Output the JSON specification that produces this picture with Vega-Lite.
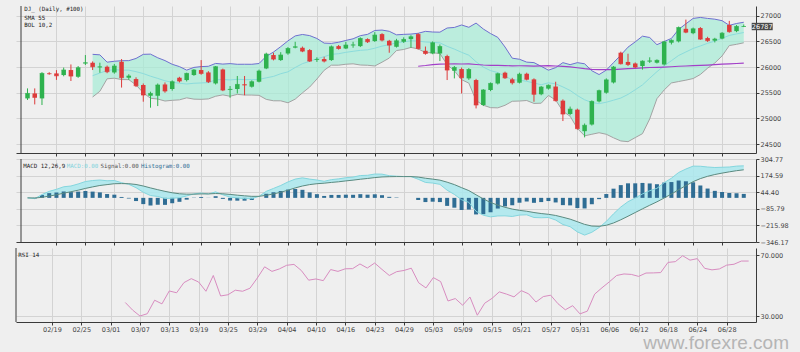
{
"$schema": "https://vega.github.io/schema/vega-lite/v6.json",
"background": "#efefef",
"padding": {"left": 15, "top": 5, "right": 45, "bottom": 5},
"bounds": "flush",
"spacing": 6,
"config": {
  "view": {"stroke": null},
  "axis": {"domainColor": "#3a3a3a", "tickColor": "#3a3a3a", "gridColor": "#d3d3d3", "gridWidth": 1, "labelFont": "DejaVu Sans", "labelFontSize": 6.5, "labelColor": "#444", "title": null}
},
"datasets": {
"k": [
{"i":0,"o":25389,"h":25584,"l":25358,"c":25486},{"i":1,"o":25486,"h":25584,"l":25272,"c":25409},{"i":2,"o":25389,"h":25900,"l":25260,"c":25876},{"i":3,"o":25876,"h":25900,"l":25850,"c":25870},{"i":4,"o":25876,"h":25940,"l":25750,"c":25830},{"i":5,"o":25844,"h":25990,"l":25820,"c":25942},{"i":6,"o":25942,"h":26051,"l":25728,"c":25825},{"i":7,"o":25811,"h":26020,"l":25790,"c":25987},{"i":8,"o":26070,"h":26234,"l":26040,"c":26084},{"i":9,"o":26084,"h":26110,"l":25942,"c":26006},
{"i":10,"o":25995,"h":26085,"l":25889,"c":26005},{"i":11,"o":26006,"h":26030,"l":25880,"c":25909},{"i":12,"o":25895,"h":26060,"l":25870,"c":26019},{"i":13,"o":26103,"h":26156,"l":25600,"c":25792},{"i":14,"o":25792,"h":25860,"l":25750,"c":25825},{"i":15,"o":25766,"h":25800,"l":25610,"c":25636},{"i":16,"o":25650,"h":25680,"l":25325,"c":25455},{"i":17,"o":25441,"h":25520,"l":25208,"c":25486},{"i":18,"o":25441,"h":25680,"l":25240,"c":25650},{"i":19,"o":25661,"h":25700,"l":25500,"c":25533},
{"i":20,"o":25572,"h":25740,"l":25540,"c":25714},{"i":21,"o":25792,"h":25810,"l":25700,"c":25728},{"i":22,"o":25747,"h":25890,"l":25720,"c":25876},{"i":23,"o":25844,"h":25960,"l":25830,"c":25942},{"i":24,"o":25942,"h":26136,"l":25850,"c":25876},{"i":25,"o":25895,"h":25920,"l":25690,"c":25714},{"i":26,"o":25681,"h":26020,"l":25660,"c":26006},{"i":27,"o":25953,"h":25970,"l":25530,"c":25552},{"i":28,"o":25555,"h":25630,"l":25402,"c":25565},{"i":29,"o":25572,"h":25826,"l":25486,"c":25661},
{"i":30,"o":25661,"h":25826,"l":25450,"c":25650},{"i":31,"o":25617,"h":25740,"l":25600,"c":25714},{"i":32,"o":25714,"h":25950,"l":25700,"c":25922},{"i":33,"o":25973,"h":26280,"l":25960,"c":26253},{"i":34,"o":26234,"h":26280,"l":26130,"c":26156},{"i":35,"o":26136,"h":26290,"l":26120,"c":26234},{"i":36,"o":26265,"h":26390,"l":26240,"c":26362},{"i":37,"o":26380,"h":26493,"l":26365,"c":26395},{"i":38,"o":26376,"h":26400,"l":26290,"c":26311},{"i":39,"o":26331,"h":26350,"l":26100,"c":26117},
{"i":40,"o":26140,"h":26190,"l":26100,"c":26148},{"i":41,"o":26156,"h":26200,"l":26090,"c":26117},{"i":42,"o":26136,"h":26420,"l":26120,"c":26395},{"i":43,"o":26408,"h":26430,"l":26340,"c":26362},{"i":44,"o":26362,"h":26490,"l":26350,"c":26428},{"i":45,"o":26425,"h":26493,"l":26376,"c":26432},{"i":46,"o":26408,"h":26580,"l":26390,"c":26557},{"i":47,"o":26545,"h":26560,"l":26470,"c":26493},{"i":48,"o":26506,"h":26680,"l":26490,"c":26623},{"i":49,"o":26642,"h":26660,"l":26500,"c":26526},
{"i":50,"o":26512,"h":26530,"l":26279,"c":26428},{"i":51,"o":26395,"h":26550,"l":26380,"c":26512},{"i":52,"o":26493,"h":26580,"l":26470,"c":26538},{"i":53,"o":26545,"h":26620,"l":26376,"c":26590},{"i":54,"o":26642,"h":26660,"l":26340,"c":26362},{"i":55,"o":26317,"h":26400,"l":26240,"c":26265},{"i":56,"o":26265,"h":26500,"l":26250,"c":26473},{"i":57,"o":26265,"h":26440,"l":26117,"c":26400},{"i":58,"o":26214,"h":26240,"l":25747,"c":25942},{"i":59,"o":25928,"h":26020,"l":25779,"c":25992},
{"i":60,"o":25961,"h":25990,"l":25486,"c":25792},{"i":61,"o":25779,"h":25980,"l":25750,"c":25953},{"i":62,"o":25747,"h":25770,"l":25194,"c":25261},{"i":63,"o":25261,"h":25570,"l":25240,"c":25553},{"i":64,"o":25553,"h":25700,"l":25530,"c":25681},{"i":65,"o":25680,"h":25890,"l":25660,"c":25870},{"i":66,"o":25890,"h":25910,"l":25770,"c":25790},{"i":67,"o":25760,"h":25790,"l":25660,"c":25695},{"i":68,"o":25695,"h":25890,"l":25680,"c":25860},{"i":69,"o":25870,"h":25890,"l":25740,"c":25760},
{"i":70,"o":25760,"h":25780,"l":25324,"c":25470},{"i":71,"o":25470,"h":25630,"l":25450,"c":25610},{"i":72,"o":25580,"h":25660,"l":25560,"c":25645},{"i":73,"o":25620,"h":25714,"l":25330,"c":25345},{"i":74,"o":25345,"h":25370,"l":24948,"c":25085},{"i":75,"o":25085,"h":25230,"l":25060,"c":25180},{"i":76,"o":25170,"h":25190,"l":24780,"c":24800},{"i":77,"o":24750,"h":24900,"l":24630,"c":24865},{"i":78,"o":24880,"h":25350,"l":24860,"c":25330},{"i":79,"o":25330,"h":25560,"l":25310,"c":25540},
{"i":80,"o":25500,"h":25780,"l":25480,"c":25750},{"i":81,"o":25700,"h":26020,"l":25680,"c":26000},{"i":82,"o":26280,"h":26300,"l":26050,"c":26065},{"i":83,"o":26100,"h":26260,"l":26020,"c":26050},{"i":84,"o":26070,"h":26090,"l":25980,"c":26000},{"i":85,"o":26020,"h":26130,"l":25950,"c":26115},{"i":86,"o":26110,"h":26190,"l":26080,"c":26120},{"i":87,"o":26085,"h":26150,"l":26070,"c":26130},{"i":88,"o":26050,"h":26510,"l":26030,"c":26490},{"i":89,"o":26475,"h":26540,"l":26440,"c":26520},
{"i":90,"o":26500,"h":26790,"l":26480,"c":26770},{"i":91,"o":26745,"h":26925,"l":26660,"c":26680},{"i":92,"o":26660,"h":26770,"l":26640,"c":26745},{"i":93,"o":26760,"h":26780,"l":26530,"c":26545},{"i":94,"o":26565,"h":26590,"l":26490,"c":26515},{"i":95,"o":26515,"h":26570,"l":26480,"c":26545},{"i":96,"o":26555,"h":26680,"l":26540,"c":26660},{"i":97,"o":26820,"h":26900,"l":26670,"c":26690},{"i":98,"o":26700,"h":26820,"l":26680,"c":26790},{"i":99,"o":26785,"h":26830,"l":26780,"c":26790}
],
"b": [
{"i":9,"u":26248,"m":25832,"l":25416},{"i":10,"u":26238,"m":25883,"l":25528},{"i":11,"u":26095,"m":25933,"l":25771},{"i":12,"u":26113,"m":25948,"l":25783},{"i":13,"u":26124,"m":25940,"l":25756},{"i":14,"u":26125,"m":25940,"l":25755},{"i":15,"u":26168,"m":25910,"l":25652},{"i":16,"u":26248,"m":25873,"l":25498},{"i":17,"u":26252,"m":25822,"l":25392},{"i":18,"u":26181,"m":25779,"l":25377},{"i":19,"u":26126,"m":25732,"l":25338},
{"i":20,"u":26054,"m":25703,"l":25352},{"i":21,"u":26009,"m":25685,"l":25361},{"i":22,"u":25940,"m":25670,"l":25400},{"i":23,"u":25993,"m":25684,"l":25375},{"i":24,"u":26009,"m":25690,"l":25371},{"i":25,"u":26015,"m":25697,"l":25379},{"i":26,"u":26071,"m":25751,"l":25431},{"i":27,"u":26058,"m":25758,"l":25458},{"i":28,"u":26067,"m":25749,"l":25431},{"i":29,"u":26054,"m":25761,"l":25468},
{"i":30,"u":26055,"m":25755,"l":25455},{"i":31,"u":26054,"m":25754,"l":25454},{"i":32,"u":26069,"m":25759,"l":25449},{"i":33,"u":26210,"m":25790,"l":25370},{"i":34,"u":26293,"m":25818,"l":25343},{"i":35,"u":26398,"m":25870,"l":25342},{"i":36,"u":26510,"m":25907,"l":25304},{"i":37,"u":26607,"m":25991,"l":25375},{"i":38,"u":26635,"m":26066,"l":25497},{"i":39,"u":26613,"m":26112,"l":25611},
{"i":40,"u":26557,"m":26162,"l":25767},{"i":41,"u":26467,"m":26202,"l":25937},{"i":42,"u":26461,"m":26249,"l":26037},{"i":43,"u":26483,"m":26260,"l":26037},{"i":44,"u":26519,"m":26287,"l":26055},{"i":45,"u":26551,"m":26307,"l":26063},{"i":46,"u":26612,"m":26326,"l":26040},{"i":47,"u":26637,"m":26336,"l":26035},{"i":48,"u":26713,"m":26367,"l":26021},{"i":49,"u":26721,"m":26408,"l":26095},
{"i":50,"u":26697,"m":26436,"l":26175},{"i":51,"u":26628,"m":26475,"l":26322},{"i":52,"u":26637,"m":26490,"l":26343},{"i":53,"u":26643,"m":26513,"l":26383},{"i":54,"u":26658,"m":26506,"l":26354},{"i":55,"u":26696,"m":26489,"l":26282},{"i":56,"u":26683,"m":26481,"l":26279},{"i":57,"u":26680,"m":26472,"l":26264},{"i":58,"u":26761,"m":26404,"l":26047},{"i":59,"u":26772,"m":26350,"l":25928},
{"i":60,"u":26820,"m":26287,"l":25754},{"i":61,"u":26775,"m":26231,"l":25687},{"i":62,"u":26857,"m":26103,"l":25349},{"i":63,"u":26742,"m":25999,"l":25256},{"i":64,"u":26653,"m":25931,"l":25209},{"i":65,"u":26579,"m":25892,"l":25205},{"i":66,"u":26391,"m":25823,"l":25255},{"i":67,"u":26173,"m":25753,"l":25333},{"i":68,"u":26152,"m":25745,"l":25338},{"i":69,"u":26096,"m":25722,"l":25348},
{"i":70,"u":26087,"m":25689,"l":25291},{"i":71,"u":26014,"m":25655,"l":25296},{"i":72,"u":25939,"m":25693,"l":25447},{"i":73,"u":25989,"m":25673,"l":25357},{"i":74,"u":26086,"m":25613,"l":25140},{"i":75,"u":26047,"m":25544,"l":25041},{"i":76,"u":26086,"m":25445,"l":24804},{"i":77,"u":26064,"m":25362,"l":24660},{"i":78,"u":25928,"m":25309,"l":24690},{"i":79,"u":25854,"m":25287,"l":24720},
{"i":80,"u":25940,"m":25315,"l":24690},{"i":81,"u":26087,"m":25354,"l":24621},{"i":82,"u":26232,"m":25396,"l":24560},{"i":83,"u":26388,"m":25467,"l":24546},{"i":84,"u":26491,"m":25558,"l":24625},{"i":85,"u":26602,"m":25652,"l":24702},{"i":86,"u":26576,"m":25783,"l":24990},{"i":87,"u":26436,"m":25910,"l":25384},{"i":88,"u":26498,"m":26026,"l":25554},{"i":89,"u":26558,"m":26124,"l":25690},
{"i":90,"u":26734,"m":26226,"l":25718},{"i":91,"u":26843,"m":26294,"l":25745},{"i":92,"u":26948,"m":26362,"l":25776},{"i":93,"u":26967,"m":26411,"l":25855},{"i":94,"u":26948,"m":26463,"l":25978},{"i":95,"u":26933,"m":26506,"l":26079},{"i":96,"u":26904,"m":26560,"l":26216},{"i":97,"u":26813,"m":26616,"l":26419},{"i":98,"u":26849,"m":26646,"l":26443},{"i":99,"u":26873,"m":26673,"l":26473}
],
"s": [
{"i":54,"v":26016},{"i":55,"v":26030},{"i":56,"v":26049},{"i":57,"v":26059},{"i":58,"v":26060},{"i":59,"v":26063},{"i":60,"v":26060},{"i":61,"v":26063},{"i":62,"v":26050},{"i":63,"v":26040},{"i":64,"v":26034},{"i":65,"v":26032},{"i":66,"v":26029},{"i":67,"v":26024},{"i":68,"v":26025},{"i":69,"v":26024},{"i":70,"v":26020},{"i":71,"v":26023},{"i":72,"v":26026},{"i":73,"v":26021},{"i":74,"v":26012},{"i":75,"v":26003},{"i":76,"v":25986},{"i":77,"v":25968},{"i":78,"v":25956},{"i":79,"v":25950},{"i":80,"v":25951},{"i":81,"v":25951},{"i":82,"v":25960},{"i":83,"v":25969},{"i":84,"v":25975},{"i":85,"v":25984},{"i":86,"v":25991},{"i":87,"v":25995},{"i":88,"v":25999},{"i":89,"v":26006},{"i":90,"v":26016},{"i":91,"v":26021},{"i":92,"v":26028},{"i":93,"v":26032},{"i":94,"v":26039},{"i":95,"v":26046},{"i":96,"v":26056},{"i":97,"v":26062},{"i":98,"v":26069},{"i":99,"v":26076}
],
"d": [
{"i":0,"m":0,"s":0},{"i":1,"m":-6,"s":-1,"h":-5},{"i":2,"m":26,"s":4,"h":22},{"i":3,"m":51,"s":14,"h":37},{"i":4,"m":67,"s":24,"h":42},{"i":5,"m":87,"s":37,"h":50},{"i":6,"m":93,"s":48,"h":45},{"i":7,"m":109,"s":60,"h":49},{"i":8,"m":128,"s":74,"h":54},{"i":9,"m":136,"s":86,"h":49},
{"i":10,"m":140,"s":97,"h":43},{"i":11,"m":134,"s":104,"h":30},{"i":12,"m":136,"s":111,"h":25},{"i":13,"m":119,"s":112,"h":7},{"i":14,"m":106,"s":111,"h":-5},{"i":15,"m":80,"s":105,"h":-25},{"i":16,"m":44,"s":93,"h":-49},{"i":17,"m":18,"s":78,"h":-60},{"i":18,"m":11,"s":64,"h":-54},{"i":19,"m":-5,"s":51,"h":-55},
{"i":20,"m":-3,"s":40,"h":-42},{"i":21,"m":1,"s":32,"h":-31},{"i":22,"m":15,"s":29,"h":-14},{"i":23,"m":31,"s":29,"h":2},{"i":24,"m":38,"s":31,"h":7},{"i":25,"m":30,"s":31,"h":-1},{"i":26,"m":47,"s":34,"h":13},{"i":27,"m":24,"s":32,"h":-8},{"i":28,"m":6,"s":27,"h":-21},{"i":29,"m":0,"s":21,"h":-22},
{"i":30,"m":-6,"s":16,"h":-22},{"i":31,"m":-6,"s":12,"h":-17},{"i":32,"m":12,"s":12,"h":0},{"i":33,"m":51,"s":20,"h":32},{"i":34,"m":74,"s":31,"h":44},{"i":35,"m":97,"s":44,"h":54},{"i":36,"m":125,"s":60,"h":65},{"i":37,"m":147,"s":78,"h":70},{"i":38,"m":157,"s":93,"h":63},{"i":39,"m":147,"s":104,"h":43},
{"i":40,"m":140,"s":111,"h":29},{"i":41,"m":130,"s":115,"h":15},{"i":42,"m":143,"s":121,"h":23},{"i":43,"m":149,"s":126,"h":23},{"i":44,"m":158,"s":133,"h":25},{"i":45,"m":163,"s":139,"h":24},{"i":46,"m":175,"s":146,"h":29},{"i":47,"m":177,"s":152,"h":25},{"i":48,"m":187,"s":159,"h":28},{"i":49,"m":186,"s":164,"h":21},
{"i":50,"m":174,"s":166,"h":8},{"i":51,"m":170,"s":167,"h":3},{"i":52,"m":167,"s":167,"h":0},{"i":53,"m":167,"s":167,"h":0},{"i":54,"m":146,"s":163,"h":-17},{"i":55,"m":121,"s":154,"h":-33},{"i":56,"m":116,"s":147,"h":-30},{"i":57,"m":106,"s":139,"h":-33},{"i":58,"m":60,"s":123,"h":-63},{"i":59,"m":27,"s":104,"h":-77},
{"i":60,"m":-15,"s":80,"h":-95},{"i":61,"m":-35,"s":57,"h":-92},{"i":62,"m":-106,"s":24,"h":-130},{"i":63,"m":-136,"s":-8,"h":-128},{"i":64,"m":-149,"s":-36,"h":-113},{"i":65,"m":-142,"s":-57,"h":-84},{"i":66,"m":-141,"s":-74,"h":-67},{"i":67,"m":-146,"s":-88,"h":-58},{"i":68,"m":-135,"s":-98,"h":-38},{"i":69,"m":-133,"s":-105,"h":-29},
{"i":70,"m":-154,"s":-115,"h":-39},{"i":71,"m":-156,"s":-123,"h":-33},{"i":72,"m":-154,"s":-129,"h":-25},{"i":73,"m":-174,"s":-138,"h":-36},{"i":74,"m":-209,"s":-152,"h":-57},{"i":75,"m":-226,"s":-167,"h":-59},{"i":76,"m":-267,"s":-187,"h":-80},{"i":77,"m":-292,"s":-208,"h":-83},{"i":78,"m":-270,"s":-221,"h":-50},{"i":79,"m":-233,"s":-223,"h":-10},
{"i":80,"m":-185,"s":-215,"h":30},{"i":81,"m":-125,"s":-197,"h":72},{"i":82,"m":-72,"s":-172,"h":100},{"i":83,"m":-30,"s":-144,"h":114},{"i":84,"m":-1,"s":-115,"h":114},{"i":85,"m":31,"s":-86,"h":117},{"i":86,"m":56,"s":-58,"h":113},{"i":87,"m":75,"s":-31,"h":107},{"i":88,"m":119,"s":-1,"h":120},{"i":89,"m":154,"s":30,"h":124},
{"i":90,"m":199,"s":64,"h":136},{"i":91,"m":226,"s":96,"h":130},{"i":92,"m":249,"s":127,"h":122},{"i":93,"m":248,"s":151,"h":97},{"i":94,"m":242,"s":169,"h":73},{"i":95,"m":238,"s":183,"h":55},{"i":96,"m":240,"s":194,"h":46},{"i":97,"m":242,"s":204,"h":38},{"i":98,"m":249,"s":213,"h":36},{"i":99,"m":251,"s":220,"h":31}
],
"r": [
{"i":14,"v":38.9},{"i":15,"v":33.9},{"i":16,"v":30.0},{"i":17,"v":31.5},{"i":18,"v":40.4},{"i":19,"v":38.0},{"i":20,"v":46.5},{"i":21,"v":45.3},{"i":22,"v":52.0},{"i":23,"v":54.6},{"i":24,"v":52.4},{"i":25,"v":46.3},{"i":26,"v":56.7},{"i":27,"v":43.2},{"i":28,"v":44.0},{"i":29,"v":47.0},{"i":30,"v":46.3},{"i":31,"v":48.3},{"i":32,"v":55.0},{"i":33,"v":62.4},{"i":34,"v":59.4},{"i":35,"v":61.0},{"i":36,"v":63.4},{"i":37,"v":64.0},{"i":38,"v":60.0},{"i":39,"v":53.6},
{"i":40,"v":54.4},{"i":41,"v":53.3},{"i":42,"v":60.6},{"i":43,"v":59.4},{"i":44,"v":61.1},{"i":45,"v":61.2},{"i":46,"v":64.3},{"i":47,"v":61.6},{"i":48,"v":64.9},{"i":49,"v":60.7},{"i":50,"v":56.7},{"i":51,"v":59.2},{"i":52,"v":60.0},{"i":53,"v":61.5},{"i":54,"v":51.9},{"i":55,"v":48.5},{"i":56,"v":55.3},{"i":57,"v":52.7},{"i":58,"v":39.9},{"i":59,"v":41.5},
{"i":60,"v":37.1},{"i":61,"v":42.5},{"i":62,"v":30.5},{"i":63,"v":38.4},{"i":64,"v":41.6},{"i":65,"v":45.9},{"i":66,"v":44.4},{"i":67,"v":42.6},{"i":68,"v":46.7},{"i":69,"v":44.6},{"i":70,"v":39.2},{"i":71,"v":42.8},{"i":72,"v":43.7},{"i":73,"v":38.1},{"i":74,"v":34.1},{"i":75,"v":36.8},{"i":76,"v":31.4},{"i":77,"v":33.2},{"i":78,"v":44.4},{"i":79,"v":48.6},
{"i":80,"v":52.5},{"i":81,"v":56.7},{"i":82,"v":57.7},{"i":83,"v":57.4},{"i":84,"v":56.1},{"i":85,"v":58.3},{"i":86,"v":58.4},{"i":87,"v":58.6},{"i":88,"v":65.3},{"i":89,"v":65.8},{"i":90,"v":69.7},{"i":91,"v":66.8},{"i":92,"v":67.8},{"i":93,"v":61.4},{"i":94,"v":60.4},{"i":95,"v":61.0},{"i":96,"v":63.5},{"i":97,"v":64.1},{"i":98,"v":66.2},{"i":99,"v":66.2}
]
},
"vconcat": [
{
 "width": 740, "height": 147,
 "layer": [
  {"data": {"name": "b"}, "mark": {"type": "area", "color": "#a5ecd6", "opacity": 0.7},
   "encoding": {
    "x": {"field": "i", "type": "quantitative", "scale": {"domain": [-0.9, 100], "nice": false, "zero": false},
          "axis": {"values": [4,8,12,16,20,24,28,32,36,40,44,48,52,56,60,64,68,72,76,80,84,88,92,96], "tickCount": 200, "labels": false, "tickSize": 3, "grid": true}},
    "y": {"field": "u", "type": "quantitative", "scale": {"domain": [24325, 27190], "nice": false, "zero": false},
          "axis": {"orient": "right", "values": [24500,25000,25500,26000,26500,27000], "tickCount": 200, "format": "d", "tickSize": 3, "labelPadding": 1, "grid": true, "labelOverlap": false, "labelBound": false}},
    "y2": {"field": "l"}}},
  {"data": {"name": "b"}, "mark": {"type": "line", "color": "#8cdcdc", "strokeWidth": 1}, "encoding": {"x": {"field": "i", "type": "quantitative"}, "y": {"field": "m", "type": "quantitative"}}},
  {"data": {"name": "b"}, "mark": {"type": "line", "color": "#6f6fd0", "strokeWidth": 1}, "encoding": {"x": {"field": "i", "type": "quantitative"}, "y": {"field": "u", "type": "quantitative"}}},
  {"data": {"name": "b"}, "mark": {"type": "line", "color": "#a3a3a3", "strokeWidth": 1}, "encoding": {"x": {"field": "i", "type": "quantitative"}, "y": {"field": "l", "type": "quantitative"}}},
  {"data": {"name": "s"}, "mark": {"type": "line", "color": "#a23fc8", "strokeWidth": 1.2}, "encoding": {"x": {"field": "i", "type": "quantitative"}, "y": {"field": "v", "type": "quantitative"}}},
  {"data": {"name": "k"}, "mark": {"type": "rule", "strokeWidth": 1},
   "encoding": {"x": {"field": "i", "type": "quantitative"}, "y": {"field": "l", "type": "quantitative"}, "y2": {"field": "h"},
    "color": {"condition": {"test": "datum.c >= datum.o", "value": "#2eb24e"}, "value": "#dd3b3b"}}},
  {"data": {"name": "k"}, "mark": {"type": "bar", "size": 4.5},
   "encoding": {"x": {"field": "i", "type": "quantitative"}, "y": {"field": "o", "type": "quantitative"}, "y2": {"field": "c"},
    "color": {"condition": {"test": "datum.c >= datum.o", "value": "#2eb24e"}, "value": "#dd3b3b"}}},
  {"data": {"name": "k"}, "mark": {"type": "tick", "orient": "horizontal", "size": 4.5, "thickness": 1},
   "encoding": {"x": {"field": "i", "type": "quantitative"}, "y": {"field": "c", "type": "quantitative"},
    "color": {"condition": {"test": "datum.c >= datum.o", "value": "#2eb24e"}, "value": "#dd3b3b"}}},
  {"data": {"values": [{}]}, "mark": {"type": "rule", "color": "#3a3a3a"}, "encoding": {"x": {"datum": -0.9}}},
  {"data": {"values": [{}]}, "mark": {"type": "text", "align": "left", "baseline": "middle", "font": "DejaVu Sans Mono", "fontSize": 5.8, "color": "#222"},
   "encoding": {"x": {"datum": -0.45}, "y": {"datum": 27126}, "text": {"value": "DJ_ (Daily, #100)"}}},
  {"data": {"values": [{}]}, "mark": {"type": "text", "align": "left", "baseline": "middle", "font": "DejaVu Sans Mono", "fontSize": 5.8, "color": "#222"},
   "encoding": {"x": {"datum": -0.45}, "y": {"datum": 26950}, "text": {"value": "SMA 55"}}},
  {"data": {"values": [{}]}, "mark": {"type": "text", "align": "left", "baseline": "middle", "font": "DejaVu Sans Mono", "fontSize": 5.8, "color": "#222"},
   "encoding": {"x": {"datum": -0.45}, "y": {"datum": 26810}, "text": {"value": "BOL 10,2"}}},
  {"data": {"values": [{}]}, "mark": {"type": "rect", "color": "#4a4a4a"},
   "encoding": {"x": {"datum": 100.1}, "x2": {"datum": 103.0}, "y": {"datum": 26862}, "y2": {"datum": 26718}}},
  {"data": {"values": [{}]}, "mark": {"type": "text", "align": "center", "baseline": "middle", "font": "DejaVu Sans", "fontSize": 6.5, "color": "#ffffff"},
   "encoding": {"x": {"datum": 101.55}, "y": {"datum": 26790}, "text": {"value": "26787"}}}
 ]
},
{
 "width": 740, "height": 83,
 "layer": [
  {"data": {"name": "d"}, "mark": {"type": "area", "color": "#a9e7ed", "opacity": 0.85},
   "encoding": {
    "x": {"field": "i", "type": "quantitative", "scale": {"domain": [-0.9, 100], "nice": false, "zero": false},
          "axis": {"values": [4,8,12,16,20,24,28,32,36,40,44,48,52,56,60,64,68,72,76,80,84,88,92,96], "tickCount": 200, "labels": false, "tickSize": 3, "grid": true}},
    "y": {"field": "m", "type": "quantitative", "scale": {"domain": [-346.17, 304.77], "nice": false, "zero": false},
          "axis": {"orient": "right", "values": [304.77,174.59,44.40,-85.79,-215.98,-346.17], "tickCount": 200, "format": ".2f", "tickSize": 3, "labelPadding": 1, "grid": true, "labelOverlap": false, "labelBound": false}},
    "y2": {"field": "s"}}},
  {"data": {"name": "d"}, "mark": {"type": "bar", "size": 4, "color": "#2f6d94"},
   "encoding": {"x": {"field": "i", "type": "quantitative"}, "y": {"field": "h", "type": "quantitative"}, "y2": {"datum": 0}}},
  {"data": {"name": "d"}, "mark": {"type": "line", "color": "#84d6de", "strokeWidth": 1}, "encoding": {"x": {"field": "i", "type": "quantitative"}, "y": {"field": "m", "type": "quantitative"}}},
  {"data": {"name": "d"}, "mark": {"type": "line", "color": "#5b8a80", "strokeWidth": 1}, "encoding": {"x": {"field": "i", "type": "quantitative"}, "y": {"field": "s", "type": "quantitative"}}},
  {"data": {"values": [{}]}, "mark": {"type": "rule", "color": "#3a3a3a"}, "encoding": {"x": {"datum": -0.9}}},
  {"data": {"values": [{}]}, "mark": {"type": "text", "align": "left", "baseline": "middle", "font": "DejaVu Sans Mono", "fontSize": 5.8, "color": "#222"},
   "encoding": {"x": {"datum": -0.59}, "y": {"datum": 250}, "text": {"value": "MACD 12,26,9"}}},
  {"data": {"values": [{}]}, "mark": {"type": "text", "align": "left", "baseline": "middle", "font": "DejaVu Sans Mono", "fontSize": 5.8, "color": "#7fd3dd"},
   "encoding": {"x": {"datum": 5.44}, "y": {"datum": 250}, "text": {"value": "MACD:0.00"}}},
  {"data": {"values": [{}]}, "mark": {"type": "text", "align": "left", "baseline": "middle", "font": "DejaVu Sans Mono", "fontSize": 5.8, "color": "#555"},
   "encoding": {"x": {"datum": 10.08}, "y": {"datum": 250}, "text": {"value": "Signal:0.00"}}},
  {"data": {"values": [{}]}, "mark": {"type": "text", "align": "left", "baseline": "middle", "font": "DejaVu Sans Mono", "fontSize": 5.8, "color": "#2f6d94"},
   "encoding": {"x": {"datum": 15.68}, "y": {"datum": 250}, "text": {"value": "Histogram:0.00"}}}
 ]
},
{
 "width": 740, "height": 74,
 "layer": [
  {"data": {"name": "r"}, "mark": {"type": "line", "color": "#d88cc0", "strokeWidth": 1},
   "encoding": {
    "x": {"field": "i", "type": "quantitative", "scale": {"domain": [-0.9, 100], "nice": false, "zero": false},
          "axis": {"values": [4,8,12,16,20,24,28,32,36,40,44,48,52,56,60,64,68,72,76,80,84,88,92,96], "tickCount": 200, "tickSize": 3, "labelPadding": 1, "grid": true, "labelOverlap": false, "labelBound": false, "labelFlush": false,
                   "labelExpr": "['02/19','02/25','03/01','03/07','03/13','03/19','03/25','03/29','04/04','04/10','04/16','04/23','04/29','05/03','05/09','05/15','05/21','05/27','05/31','06/06','06/12','06/18','06/24','06/28'][datum.value/4-1]"}},
    "y": {"field": "v", "type": "quantitative", "scale": {"domain": [26.05, 74.8], "nice": false, "zero": false},
          "axis": {"orient": "right", "values": [70, 30], "tickCount": 200, "format": ".3f", "tickSize": 3, "labelPadding": 1, "grid": true, "labelOverlap": false, "labelBound": false}}}},
  {"data": {"values": [{}]}, "mark": {"type": "rule", "color": "#3a3a3a"}, "encoding": {"x": {"datum": -0.9}}},
  {"data": {"values": [{}]}, "mark": {"type": "text", "align": "left", "baseline": "middle", "font": "DejaVu Sans Mono", "fontSize": 5.8, "color": "#222"},
   "encoding": {"x": {"datum": -0.59}, "y": {"datum": 70}, "text": {"value": "RSI 14"}}},
  {"data": {"values": [{}]}, "mark": {"type": "text", "align": "right", "baseline": "alphabetic", "font": "Liberation Sans", "fontSize": 19, "color": "#b5b5b5"},
   "encoding": {"x": {"datum": 104.5}, "y": {"datum": 8.4}, "text": {"value": "www.forexre.com"}}}
 ]
}
]
}
